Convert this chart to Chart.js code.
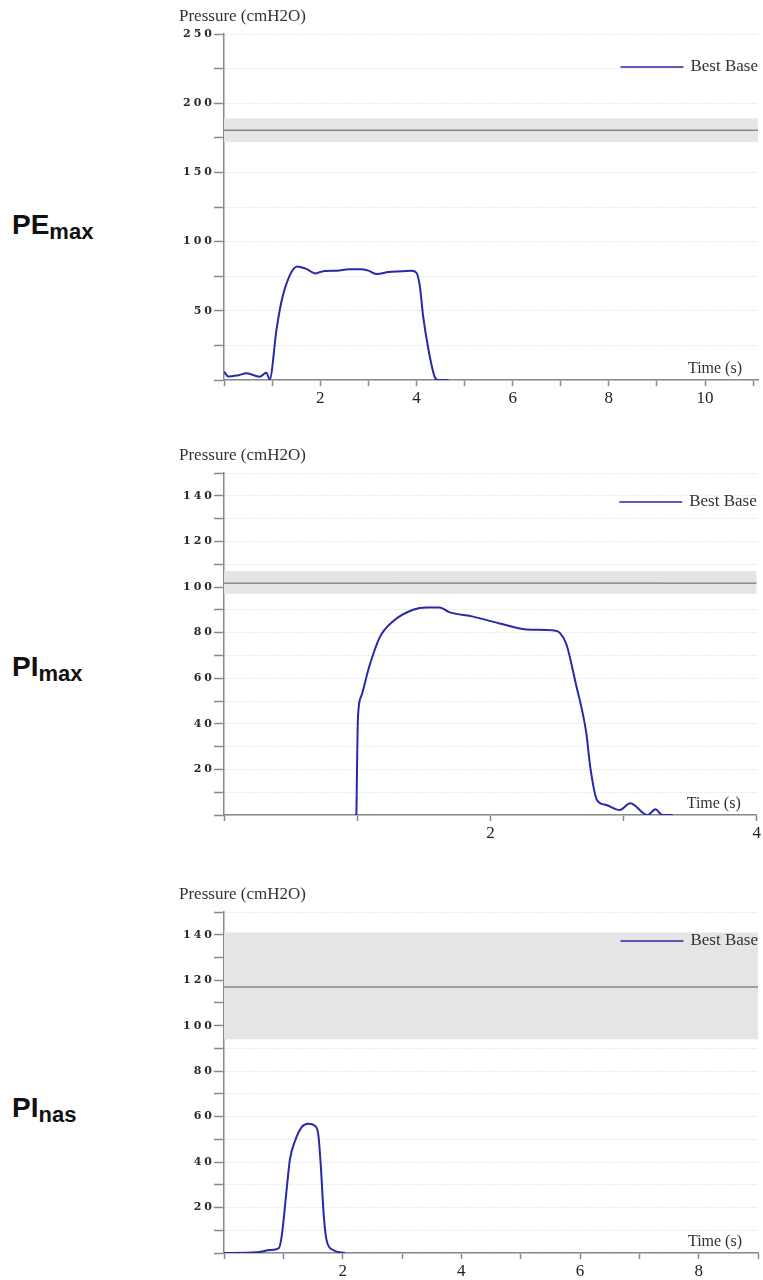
<!DOCTYPE html>
<html>
<head>
<meta charset="utf-8">
<script src="https://cdn.jsdelivr.net/npm/chart.js@4/dist/chart.umd.min.js"></script>
<style>
  body { margin: 0; background: #fff; width: 763px; height: 1280px; position: relative; overflow: hidden; }
  .panel { position: absolute; left: 0; width: 763px; }
  .row-label { position: absolute; left: 12px; font-family: "Liberation Sans", Arial, sans-serif; font-weight: bold; font-size: 28px; color: #111; }
  .row-label sub { font-size: 22px; vertical-align: -5px; }
</style>
</head>
<body>

<div class="row-label" style="top: 209px;">PE<sub>max</sub></div>
<div class="row-label" style="top: 651px;">PI<sub>max</sub></div>
<div class="row-label" style="top: 1092px;">PI<sub>nas</sub></div>

<div class="panel" style="top: 0px;"><canvas id="chart-pemax" width="763" height="410"></canvas></div>
<div class="panel" style="top: 440px;"><canvas id="chart-pimax" width="763" height="410"></canvas></div>
<div class="panel" style="top: 880px;"><canvas id="chart-pinas" width="763" height="400"></canvas></div>

<script>
// PEmax trace
const peTime = [0, 0.09, 0.3, 0.47, 0.74, 0.88, 0.95, 1.09, 1.19, 1.36, 1.52, 1.6, 1.7, 1.9, 2.0, 2.1, 2.35, 2.6, 2.84, 3.0, 3.18, 3.42, 3.7, 3.9, 4.0, 4.07, 4.14, 4.25, 4.39, 4.46, 4.67];
const pePressure = [6, 2.5, 3.5, 4.8, 2.4, 5.3, 0.5, 36, 56, 75, 82, 81.5, 80.5, 77, 78, 78.7, 79, 80, 80, 79, 76.5, 78, 78.5, 79, 77.5, 68, 46, 22, 1.5, 0, 0];
const peBand = [172, 189];
const peBase = 180.5;

// PImax trace
const piTime = [0.994, 1.006, 1.03, 1.09, 1.17, 1.27, 1.42, 1.52, 1.62, 1.69, 1.87, 2.07, 2.27, 2.47, 2.52, 2.57, 2.64, 2.72, 2.75, 2.80, 2.87, 2.97, 3.05, 3.18, 3.24, 3.29, 3.37];
const piPressure = [0, 43, 52, 65, 78, 85, 90, 91, 91, 89, 87, 84, 81.4, 81, 80, 75, 58, 36, 21, 6.6, 4.4, 2.2, 5.1, 0, 2.5, 0, 0];
const piBand = [97, 107];
const piBase = 101.7;

// PInas trace
const pnTime = [0, 0.55, 0.78, 0.92, 0.97, 1.06, 1.11, 1.2, 1.31, 1.42, 1.53, 1.59, 1.63, 1.68, 1.73, 1.84, 2.04];
const pnPressure = [0, 0.3, 1.3, 2, 7, 29, 41, 49.5, 55.4, 56.8, 56, 52, 39, 17, 5.5, 1.3, 0];
const pnBand = [94, 141];
const pnBase = 117;

const legendLabel = 'Best Base';
const yTitle = 'Pressure (cmH2O)';
const xTitle = 'Time (s)';

const traceColor = '#2828a8';

// axis titles + legend inside the plot area, and wide spacing for the y tick labels
const annotations = {
    id: 'annotations',
    beforeDraw(chart) {
        chart.ctx.letterSpacing = '0px';
    },
    afterDatasetsDraw(chart) {
        // y tick labels are on a layer above the datasets (ticks.z = 1)
        chart.ctx.letterSpacing = '3px';
    },
    afterDraw(chart) {
        const ctx = chart.ctx;
        const area = chart.chartArea;
        ctx.letterSpacing = '0px';
        ctx.save();
        ctx.fillStyle = '#333';
        ctx.font = '17px "Liberation Serif", serif';
        ctx.textBaseline = 'middle';

        ctx.textAlign = 'left';
        ctx.fillText(yTitle, area.left - 45, area.top - 17);

        ctx.font = '16px "Liberation Serif", serif';
        ctx.textAlign = 'right';
        ctx.fillText(xTitle, area.right - 16, area.bottom - 11);

        // legend
        const trace = chart.data.datasets[3];
        ctx.font = '17px "Liberation Serif", serif';
        const textW = ctx.measureText(trace.label).width;
        const ly = area.top + chart.options.legendOffset;
        ctx.fillText(trace.label, area.right, ly);
        ctx.strokeStyle = trace.borderColor;
        ctx.lineWidth = 1.5;
        ctx.beginPath();
        ctx.moveTo(area.right - textW - 70, ly);
        ctx.lineTo(area.right - textW - 7, ly);
        ctx.stroke();
        ctx.restore();
    }
};

document.addEventListener('DOMContentLoaded', function() {
    makeChart('chart-pemax', {
        time: peTime, pressure: pePressure, band: peBand, base: peBase,
        xMax: 11.1, yMax: 250, yStep: 25, yLabelEvery: 50,
        areaTop: 34, areaBottom: 380, height: 410, legendOffset: 33
    });
    makeChart('chart-pimax', {
        time: piTime, pressure: piPressure, band: piBand, base: piBase,
        xMax: 4, yMax: 150, yStep: 10, yLabelEvery: 20,
        areaTop: 33, areaBottom: 375, height: 410, legendOffset: 29
    });
    makeChart('chart-pinas', {
        time: pnTime, pressure: pnPressure, band: pnBand, base: pnBase,
        xMax: 9, yMax: 150, yStep: 10, yLabelEvery: 20,
        areaTop: 32, areaBottom: 373, height: 400, legendOffset: 29
    });
});

function makeChart(id, cfg) {
    const ctx = document.getElementById(id).getContext('2d');
    const points = cfg.time.map((t, i) => ({ x: t, y: cfg.pressure[i] }));

    return new Chart(ctx, {
        type: 'line',
        data: {
            datasets: [{
                label: 'band high',
                data: [{ x: 0, y: cfg.band[1] }, { x: cfg.xMax, y: cfg.band[1] }],
                borderWidth: 0,
                pointRadius: 0,
                backgroundColor: '#e6e4e4',
                fill: '+1',
                order: 10
            }, {
                label: 'band low',
                data: [{ x: 0, y: cfg.band[0] }, { x: cfg.xMax, y: cfg.band[0] }],
                borderWidth: 0,
                pointRadius: 0,
                fill: false,
                order: 9
            }, {
                label: 'base',
                data: [{ x: 0, y: cfg.base }, { x: cfg.xMax, y: cfg.base }],
                borderColor: '#5c5c5c',
                borderWidth: 1,
                pointRadius: 0,
                fill: false,
                order: 5
            }, {
                label: legendLabel,
                data: points,
                borderColor: traceColor,
                borderWidth: 2,
                pointRadius: 0,
                cubicInterpolationMode: 'monotone',
                fill: false,
                order: 0
            }]
        },
        options: {
            responsive: false,
            animation: false,
            events: [],
            legendOffset: cfg.legendOffset,
            layout: {
                padding: { top: cfg.areaTop, right: 5, left: 0, bottom: 0 }
            },
            plugins: {
                legend: { display: false },
                tooltip: { enabled: false }
            },
            scales: {
                x: {
                    type: 'linear',
                    min: 0,
                    max: cfg.xMax,
                    afterFit: function(scale) { scale.height = cfg.height - cfg.areaBottom; },
                    border: { color: '#8a8a8a', width: 1.5 },
                    grid: {
                        drawOnChartArea: false,
                        tickLength: 6,
                        tickColor: '#8a8a8a',
                        tickWidth: 1.5
                    },
                    ticks: {
                        stepSize: 1,
                        autoSkip: false,
                        maxRotation: 0,
                        includeBounds: false,
                        padding: 2,
                        color: '#222',
                        font: { family: '"Liberation Serif", serif', size: 17 },
                        callback: v => (v > 0 && v % 2 === 0) ? String(v) : ''
                    }
                },
                y: {
                    min: 0,
                    max: cfg.yMax,
                    afterFit: function(scale) { scale.width = 224; },
                    border: { color: '#8a8a8a', width: 1.5, dash: [1, 2] },
                    grid: {
                        color: '#d6d6d6',
                        lineWidth: 1,
                        tickLength: 10,
                        tickColor: '#8a8a8a',
                        tickWidth: 1.5,
                        tickBorderDash: []
                    },
                    ticks: {
                        stepSize: cfg.yStep,
                        autoSkip: false,
                        padding: -1,
                        z: 1,
                        color: '#2a2a2a',
                        font: { family: '"DejaVu Serif", serif', size: 11, weight: 'bold' },
                        callback: v => (v > 0 && v % cfg.yLabelEvery === 0) ? String(v) : ''
                    }
                }
            }
        },
        plugins: [annotations]
    });
}
</script>
</body>
</html>
